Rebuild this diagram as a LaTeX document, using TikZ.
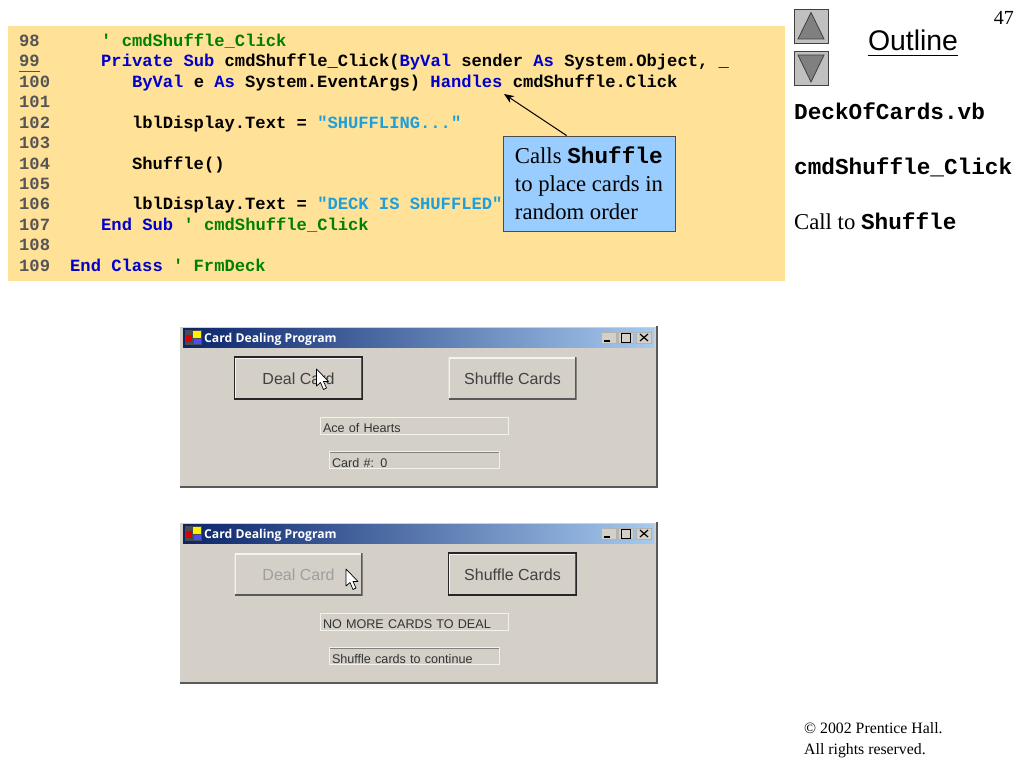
\documentclass[tikz,border=0pt]{standalone}
\usepackage{fontspec}
\usetikzlibrary{arrows.meta}
\setmainfont{Liberation Serif}
\setsansfont{Liberation Sans}
\setmonofont{Liberation Mono}
\newfontfamily\titlefont{Open Sans}
\definecolor{codebg}{HTML}{FFE298}
\definecolor{kwblue}{HTML}{0000CC}
\definecolor{cmtgreen}{HTML}{008000}
\definecolor{strblue}{HTML}{1E9FDC}
\definecolor{numgray}{HTML}{555555}
\definecolor{calloutbg}{HTML}{99CCFF}
\definecolor{winface}{HTML}{D4D0C8}
\definecolor{navgray}{HTML}{C0C0C0}
\definecolor{navdark}{HTML}{808080}
\definecolor{titledark}{HTML}{0A246A}
\definecolor{titlelight}{HTML}{A6CAF0}
\newcommand{\kw}[1]{\textcolor{kwblue}{#1}}
\newcommand{\cmt}[1]{\textcolor{cmtgreen}{#1}}
\newcommand{\str}[1]{\textcolor{strblue}{#1}}
\begin{document}
\begin{tikzpicture}[x=1pt, y=-1pt,
	num style/.style={anchor=base west, inner sep=0pt, text=numgray, font=\fontsize{17.15}{20}\ttfamily\bfseries},
	code style/.style={anchor=base west, inner sep=0pt, font=\fontsize{17.15}{20}\ttfamily\bfseries},
	side style/.style={anchor=base west, inner sep=0pt, font=\fontsize{22.7}{28}\selectfont},
	sidecode style/.style={anchor=base west, inner sep=0pt, font=\fontsize{22.7}{28}\ttfamily\bfseries},
	callout style/.style={draw=black!70, fill=calloutbg, line width=0.8pt, minimum width=172pt, minimum height=95pt, inner sep=0pt, align=left, font=\fontsize{22.7}{28}\selectfont},
	nav style/.style={draw=black!75, fill=navgray, line width=0.8pt, minimum width=34pt, minimum height=34pt, inner sep=0pt},
	tri style/.style={draw=black!75, fill=navdark, line width=0.8pt},
	raised/.style={fill=winface, minimum width=128pt, minimum height=42pt, inner sep=0pt, text height=12pt, text depth=0pt, font=\fontsize{16}{18}\sffamily, text=black!75,
		path picture={\draw[white!75!winface, line width=3pt] (path picture bounding box.south west) |- (path picture bounding box.north east);
		\draw[black!65, line width=3pt] (path picture bounding box.south west) -| (path picture bounding box.north east);}},
	defbtn/.style={raised, draw=black!85, line width=1.4pt},
	offbtn/.style={raised, text=black!38},
	sunken/.style={fill=winface, inner ysep=0pt, inner xsep=3pt, align=left, text height=14pt, text depth=0pt, font=\fontsize{12.6}{14}\sffamily, text=black!80, draw=white!70!winface, line width=0.8pt,
		path picture={\draw[black!50, line width=2.6pt] (path picture bounding box.south west) |- (path picture bounding box.north east);}},
	ctrl style/.style={fill=winface, draw=black!30, line width=0.5pt, minimum width=15pt, minimum height=11pt, inner sep=0pt},
	cursor/.pic={\draw[black, fill=white, line width=0.7pt, line join=round] (0,0) -- (0,17) -- (4,13.5) -- (7,20.5) -- (10,19) -- (7,12.5) -- (12,12.5) -- cycle;}]
	\useasboundingbox (0,0) rectangle (1024,768);

	% code listing
	\node[fill=codebg, minimum width=777pt, minimum height=255pt, inner sep=0pt] (listing) at (396.5,153.5) {};
	\foreach \n/\y in {98/46.5,99/66.9,100/87.4,101/107.8,102/128.2,103/148.7,104/169.1,105/189.5,106/209.9,107/230.4,108/250.8,109/271.2}
	\node[num style] (n\n) at (19,\y) {\n};
	\draw[numgray] (n99.south west) ++(0,4) -- ++(20.5,0);
	\node[code style] (L98) at (101,46.5) {\cmt{' cmdShuffle\_Click}};
	\node[code style] (L99) at (101,66.9) {\kw{Private Sub} cmdShuffle\_Click(\kw{ByVal} sender \kw{As} System.Object, \_};
	\node[code style] (L100) at (131.8,87.4) {\kw{ByVal} e \kw{As} System.EventArgs) \kw{Handles} cmdShuffle.Click};
	\node[code style] (L102) at (131.8,128.2) {lblDisplay.Text = \str{"SHUFFLING..."}};
	\node[code style] (L104) at (131.8,169.1) {Shuffle()};
	\node[code style] (L106) at (131.8,209.9) {lblDisplay.Text = \str{"DECK IS SHUFFLED"}};
	\node[code style] (L107) at (101,230.4) {\kw{End Sub} \cmt{' cmdShuffle\_Click}};
	\node[code style] (L109) at (70,271.2) {\kw{End Class} \cmt{' FrmDeck}};

	% callout
	\node[callout style] (callout) at (589,183.5) {Calls \texttt{\bfseries Shuffle}\\to place cards in\\random order};
	\coordinate (handles) at (504,94);
	\draw[-{Stealth[length=10pt,width=8pt]}, line width=1pt] (callout.115) -- (handles);

	% side column
	\node[nav style] (up) at (811,26) {};
	\node[nav style] (down) at (811,68.5) {};
	\draw[tri style] (811,12.5) -- (798,39) -- (824,39) -- cycle;
	\draw[tri style] (811,82) -- (798,55) -- (824,55) -- cycle;
	\node[anchor=base, inner sep=0pt, text depth=5pt, font=\fontsize{28.4}{30}\sffamily] (outline) at (913,50) {Outline};
	\draw[line width=0.8pt] (outline.south west) -- (outline.south east);
	\node[anchor=base east, inner sep=0pt, font=\fontsize{20}{22}\selectfont] (page) at (1014,25) {47};
	\node[sidecode style] (deck) at (794,119) {DeckOfCards.vb};
	\node[sidecode style] (click) at (794,174) {cmdShuffle\_Click};
	\node[side style] (callto) at (794,229) {Call to \texttt{\bfseries Shuffle}};
	\node[anchor=base west, inner sep=0pt, align=left, font=\fontsize{15.8}{21}\selectfont] (copy) at (804,754) {\textcopyright\ 2002 Prentice Hall.\\All rights reserved.};

	% the two program windows
	\foreach \w/\dy/\bl/\br/\ta/\tb in {1/0/defbtn/raised/Ace of Hearts/Card \#: 0, 2/196/offbtn/defbtn/NO MORE CARDS TO DEAL/Shuffle cards to continue} {
		\node[fill=winface, minimum width=477pt, minimum height=160pt, inner sep=0pt] (win\w) at (418.5,406.5+\dy) {};
		\draw[black!65, line width=1.6pt] (win\w.south west) -- (win\w.south east) -- (win\w.north east);
		\node[left color=titledark, right color=titlelight, minimum width=471pt, minimum height=19pt, inner sep=0pt] (title\w) at (418.5,337.5+\dy) {};
		\node[anchor=west, inner sep=0pt, text=white, font=\fontsize{12.2}{14}\titlefont\bfseries] (caption\w) at (204,339+\dy) {Card Dealing Program};
		\fill[black!70] (185,330+\dy) rectangle (202,345+\dy);
		\fill[red!85!black] (186,335+\dy) rectangle (192,342+\dy);
		\fill[yellow] (193,331+\dy) rectangle (201,338+\dy);
		\fill[blue!70] (194,339+\dy) rectangle (201,344+\dy);
		\node[ctrl style] (min\w) at (609,337.5+\dy) {};
		\node[ctrl style] (max\w) at (625.5,337.5+\dy) {};
		\node[ctrl style] (close\w) at (644,337.5+\dy) {};
		\draw[black, line width=1.4pt] (604,341+\dy) -- (610,341+\dy);
		\draw[black, line width=0.9pt] (621,333+\dy) rectangle (630,342+\dy);
		\draw[black, line width=1.2pt] (640,334+\dy) -- (648,341+\dy) (640,341+\dy) -- (648,334+\dy);
		\node[\bl] (deal\w) at (298.5,378+\dy) {Deal Card};
		\node[\br] (shuffle\w) at (512.5,378+\dy) {Shuffle Cards};
		\node[sunken, minimum width=188pt, minimum height=17pt, text width=182pt] (lbl\w) at (414,425.5+\dy) {\ta};
		\node[sunken, minimum width=170pt, minimum height=17pt, text width=164pt] (num\w) at (414,460+\dy) {\tb};
	}
	\pic at (316.5,369) {cursor};
	\pic at (346,569) {cursor};
\end{tikzpicture}
\end{document}
